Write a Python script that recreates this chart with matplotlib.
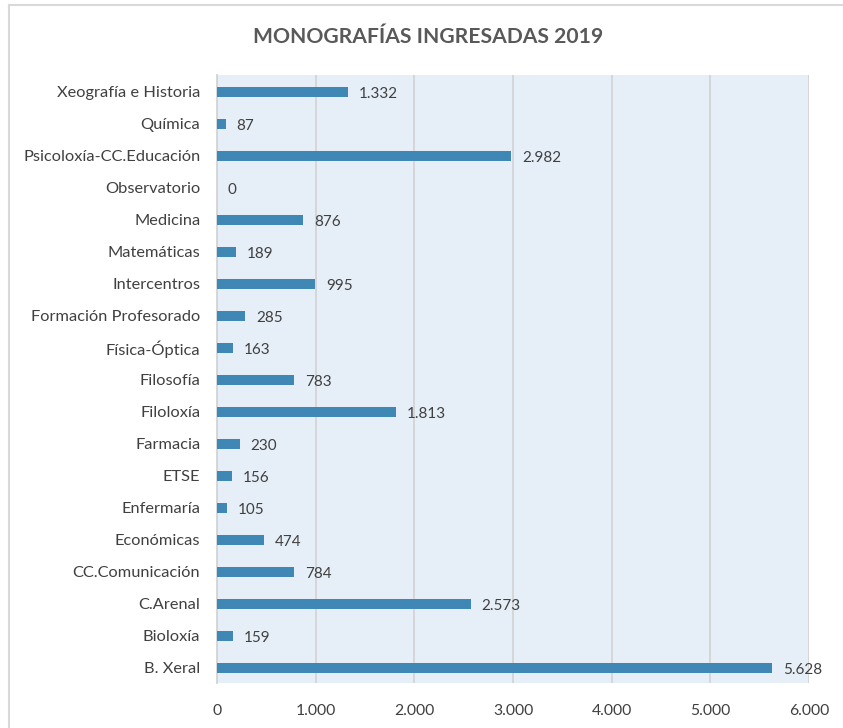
import matplotlib.pyplot as plt
from matplotlib.lines import Line2D

plt.rcParams['font.family'] = ['Lato', 'DejaVu Sans']

categorias = ['B. Xeral', 'Bioloxía', 'C.Arenal', 'CC.Comunicación', 'Económicas',
              'Enfermaría', 'ETSE', 'Farmacia', 'Filoloxía', 'Filosofía',
              'Física-Óptica', 'Formación Profesorado', 'Intercentros', 'Matemáticas',
              'Medicina', 'Observatorio', 'Psicoloxía-CC.Educación', 'Química',
              'Xeografía e Historia']
valores = [5628, 159, 2573, 784, 474, 105, 156, 230, 1813, 783, 163, 285, 995,
           189, 876, 0, 2982, 87, 1332]
ticks_x = [0, 1000, 2000, 3000, 4000, 5000, 6000]
etiquetas_x = ['0', '1.000', '2.000', '3.000', '4.000', '5.000', '6.000']


def fmt(v):
    return f'{v:,}'.replace(',', '.')


fig = plt.figure(figsize=(8.43, 7.28), dpi=100)
ax = fig.add_axes([217 / 843, 1 - 683 / 728, 592 / 843, 608 / 728])

y = range(len(categorias))
ax.barh(y, valores, height=0.33, color='#3F88B5', zorder=3)
for yi, v in zip(y, valores):
    ax.text(v + 110, yi - 0.05, fmt(v), va='center', ha='left',
            fontsize=11, color='#404040', zorder=4)

ax.set_facecolor('#E6EEF7')
ax.set_xlim(0, 6000)
ax.set_ylim(-0.47, len(categorias) - 0.47)
ax.set_xticks(ticks_x)
ax.set_xticklabels(etiquetas_x)
ax.set_yticks(list(y))
ax.set_yticklabels(categorias)
ax.tick_params(axis='x', length=0, pad=15, labelsize=11.3, labelcolor='#404040')
ax.tick_params(axis='y', length=0, pad=12, labelsize=11.8, labelcolor='#404040')
ax.grid(axis='x', color='#D4D4D4', linewidth=1.3, zorder=0)
for s in ['top', 'right', 'bottom']:
    ax.spines[s].set_visible(False)
ax.spines['left'].set_color('#D4D4D4')
ax.spines['left'].set_linewidth(1.3)

fig.text(428 / 843, 1 - 37 / 728, 'MONOGRAFÍAS INGRESADAS 2019', ha='center',
         va='center', fontsize=15.2, fontweight='bold', color='#595959')

# marco do gráfico
fig.add_artist(Line2D([9 / 843, 1], [1 - 5 / 728, 1 - 5 / 728],
                      transform=fig.transFigure, color='#D9D9D9', linewidth=1.5))
fig.add_artist(Line2D([9 / 843, 9 / 843], [0, 1 - 5 / 728],
                      transform=fig.transFigure, color='#D9D9D9', linewidth=1.5))

fig.savefig('out.png', dpi=100)
